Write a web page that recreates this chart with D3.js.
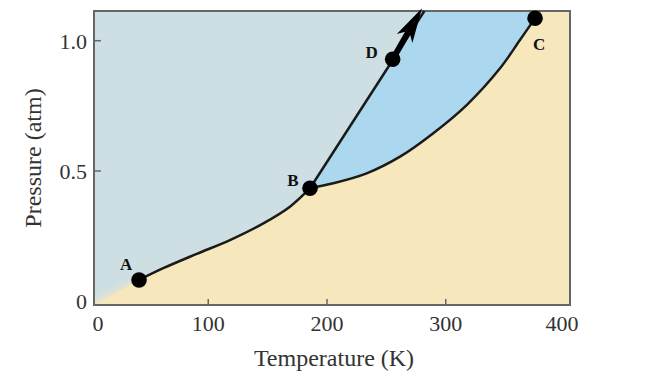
<!DOCTYPE html>
<html>
<head>
<meta charset="utf-8">
<script src="https://cdn.jsdelivr.net/npm/d3@7"></script>
<style>
  body { margin: 0; background: #fff; }
  text { font-family: "Liberation Serif", serif; }
</style>
</head>
<body>
<div id="chart"></div>
<script>
// Phase diagram settings
const w = 658;
const h = 386;
const frame = { left: 94, right: 570, top: 11, bottom: 305 };

// tick labels
const xTicks = [0, 100, 200, 300, 400];
const yTicks = [0, 0.5, 1.0];

// labelled points
const pointNames = ["A", "B", "C", "D"];
const pointT = [41.7, 185.7, 375.2, 255.3];
const pointP = [0.082, 0.434, 1.086, 0.929];

// solid-gas boundary (A -> B)
const sublimT = [41.7, 62.1, 90.3, 118.3, 146.4, 168.8, 185.7];
const sublimP = [0.082, 0.127, 0.182, 0.235, 0.299, 0.363, 0.434];

// liquid-gas boundary (B -> C)
const vapT = [185.7, 205.3, 233.4, 261.5, 289.5, 317.6, 345.7, 362.5, 375.2];
const vapP = [0.434, 0.453, 0.491, 0.555, 0.645, 0.753, 0.894, 1.003, 1.086];

// solid-liquid boundary (B -> top)
const fusT = [185.7, 282];
const fusP = [0.434, 1.114];

// arrow from D
const arrowT = [255.3, 280];
const arrowP = [0.929, 1.125];

const colSolid = "#cddfe3";
const colLiquid = "#acd8ef";
const colGas = "#f7e7bd";

const x = d3.scaleLinear().domain([0, 400]).range([89.5, 564.5]);
const y = d3.scaleLinear().domain([0, 1]).range([301.3, 40.7]);

let svg = d3.select("#chart")
  .append("svg")
  .attr("width", w)
  .attr("height", h);

const defs = svg.append("defs");
defs.append("filter").attr("id", "soft")
  .attr("x", "-50%").attr("y", "-50%").attr("width", "200%").attr("height", "200%")
  .append("feGaussianBlur").attr("stdDeviation", 5);
defs.append("clipPath").attr("id", "cornerClip")
  .append("rect")
  .attr("x", frame.left).attr("y", frame.top)
  .attr("width", x(pointT[0]) - frame.left)
  .attr("height", frame.bottom - frame.top);

const curve = d3.line().x(d => x(d[0])).y(d => y(d[1])).curve(d3.curveCatmullRom);
const straight = d3.line().x(d => x(d[0])).y(d => y(d[1]));

const sublimPts = sublimT.map((t, i) => [t, sublimP[i]]);
const vapPts = vapT.map((t, i) => [t, vapP[i]]);
const fusPts = fusT.map((t, i) => [t, fusP[i]]);

// gas region = whole frame
svg.append("rect")
  .attr("x", frame.left).attr("y", frame.top)
  .attr("width", frame.right - frame.left)
  .attr("height", frame.bottom - frame.top)
  .attr("fill", colGas);

// solid region
let solidPath = `M${frame.left},${frame.bottom}` +
  curve(sublimPts).replace(/^M/, "L") +
  `L${x(fusT[1])},${frame.top}L${frame.left},${frame.top}Z`;
svg.append("path").attr("d", solidPath).attr("fill", colSolid);

// soft fade near the origin
let ax = x(pointT[0]), ay = y(pointP[0]);
svg.append("g").attr("clip-path", "url(#cornerClip)")
  .append("path")
  .attr("d", `M${frame.left - 12},${frame.bottom + 4}L${ax},${ay}L${ax + 25},${ay}L${ax + 25},${frame.bottom + 12}L${frame.left - 12},${frame.bottom + 12}Z`)
  .attr("fill", colGas)
  .attr("filter", "url(#soft)");

// liquid region
let liquidPath = curve(vapPts) +
  `L${x(vapT[vapT.length - 1])},${frame.top}L${x(fusT[1])},${frame.top}Z`;
svg.append("path").attr("d", liquidPath).attr("fill", colLiquid);

// frame
svg.append("rect")
  .attr("x", frame.left).attr("y", frame.top)
  .attr("width", frame.right - frame.left)
  .attr("height", frame.bottom - frame.top)
  .attr("fill", "none")
  .attr("stroke", "#666")
  .attr("stroke-width", 2);

// ticks
svg.selectAll(".xtick").data(xTicks.filter(d => d > 0 && d < 400)).enter()
  .append("line")
  .attr("x1", d => x(d)).attr("x2", d => x(d))
  .attr("y1", frame.bottom).attr("y2", frame.bottom - 6)
  .attr("stroke", "#666").attr("stroke-width", 1.5);
svg.selectAll(".ytick").data(yTicks.filter(d => d > 0)).enter()
  .append("line")
  .attr("x1", frame.left).attr("x2", frame.left + 7)
  .attr("y1", d => y(d)).attr("y2", d => y(d))
  .attr("stroke", "#666").attr("stroke-width", 1.5);

svg.selectAll(".xlab").data(xTicks).enter()
  .append("text")
  .attr("x", d => Math.min(Math.max(x(d), frame.left + 4), frame.right - 8))
  .attr("y", 331)
  .attr("text-anchor", "middle")
  .attr("font-size", 22)
  .attr("fill", "#333")
  .text(d => d);
svg.selectAll(".ylab").data(yTicks).enter()
  .append("text")
  .attr("x", 87)
  .attr("y", d => y(d) + 8)
  .attr("text-anchor", "end")
  .attr("font-size", 22)
  .attr("fill", "#333")
  .text(d => d === 0 ? "0" : d.toFixed(1));

// axis titles
svg.append("text")
  .attr("x", 334).attr("y", 366)
  .attr("text-anchor", "middle")
  .attr("font-size", 24)
  .attr("fill", "#333")
  .text("Temperature (K)");
svg.append("text")
  .attr("transform", "translate(41,158) rotate(-90)")
  .attr("text-anchor", "middle")
  .attr("font-size", 24)
  .attr("fill", "#333")
  .text("Pressure (atm)");

// boundaries
[curve(sublimPts), curve(vapPts), straight(fusPts)].forEach(d => {
  svg.append("path").attr("d", d)
    .attr("fill", "none")
    .attr("stroke", "#1a1a1a")
    .attr("stroke-width", 2.5);
});

// arrow from D
let x0 = x(arrowT[0]), y0 = y(arrowP[0]);
let x1 = x(arrowT[1]), y1 = y(arrowP[1]);
let ang = Math.atan2(y1 - y0, x1 - x0) * 180 / Math.PI;
let len = Math.hypot(x1 - x0, y1 - y0);
let arrow = svg.append("g").attr("transform", `translate(${x1},${y1}) rotate(${ang})`);
arrow.append("line")
  .attr("x1", -len).attr("y1", 0).attr("x2", -24).attr("y2", 0)
  .attr("stroke", "#000").attr("stroke-width", 6);
arrow.append("path")
  .attr("d", "M0,0L-35,-9L-26,0L-35,9Z")
  .attr("fill", "#000");

// points
svg.selectAll(".pt").data(pointNames).enter()
  .append("circle")
  .attr("cx", (d, i) => x(pointT[i]))
  .attr("cy", (d, i) => y(pointP[i]))
  .attr("r", 7.8)
  .attr("fill", "#000");

// point labels
const labelDx = [-13, -17, 4, -21];
const labelDy = [-10, -2, 32, -1];
svg.selectAll(".ptlab").data(pointNames).enter()
  .append("text")
  .attr("x", (d, i) => x(pointT[i]) + labelDx[i])
  .attr("y", (d, i) => y(pointP[i]) + labelDy[i])
  .attr("text-anchor", "middle")
  .attr("font-size", 17)
  .attr("font-weight", "bold")
  .attr("fill", "#111")
  .text(d => d);
</script>
</body>
</html>
